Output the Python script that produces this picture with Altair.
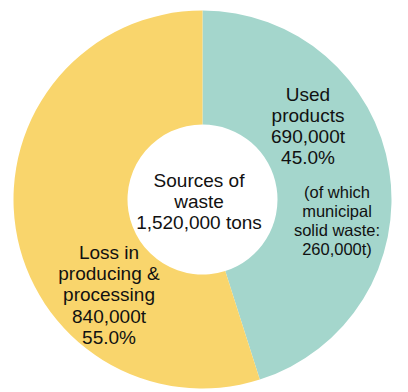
import altair as alt
import pandas as pd

categories = ["Used products", "Loss in producing & processing"]
values = [690000, 840000]
colors = ["#A4D6CC", "#F9D56C"]

center_lines = ["Sources of", "waste", "1,520,000 tons"]
used_lines = ["Used", "products", "690,000t", "45.0%"]
msw_lines = ["(of which", "municipal", "solid waste:", "260,000t)"]
loss_lines = ["Loss in", "producing &", "processing", "840,000t", "55.0%"]

df = pd.DataFrame({"category": categories, "value": values, "order": [0, 1]})

W, H = 408, 392
CX, CY = 202.5, 199.5

donut = alt.Chart(df).mark_arc(outerRadius=189, innerRadius=75, stroke=None).encode(
    theta=alt.Theta("value:Q", stack=True),
    order=alt.Order("order:Q"),
    color=alt.Color("category:N", scale=alt.Scale(domain=categories, range=colors), legend=None),
    x=alt.value(CX),
    y=alt.value(CY),
)

def label(lines, x, y, size, lh):
    return alt.Chart(pd.DataFrame({"t": ["\n".join(lines)]})).mark_text(
        font="Liberation Sans", fontSize=size, lineHeight=lh, lineBreak="\n",
        align="center", baseline="alphabetic", color="#111111"
    ).encode(text="t:N", x=alt.value(x), y=alt.value(y))

chart = alt.layer(
    donut,
    label(center_lines, 199, 187, 19, 21),
    label(used_lines, 308, 100.5, 19, 21),
    label(msw_lines, 337, 198, 16.5, 19),
    label(loss_lines, 109, 259, 19, 21.2),
).properties(
    width=W, height=H, padding=0, autosize=alt.AutoSizeParams(type="none"),
    background="white"
).configure_view(stroke=None)

chart.save("out.html", embed_options={"renderer": "svg", "actions": False})
